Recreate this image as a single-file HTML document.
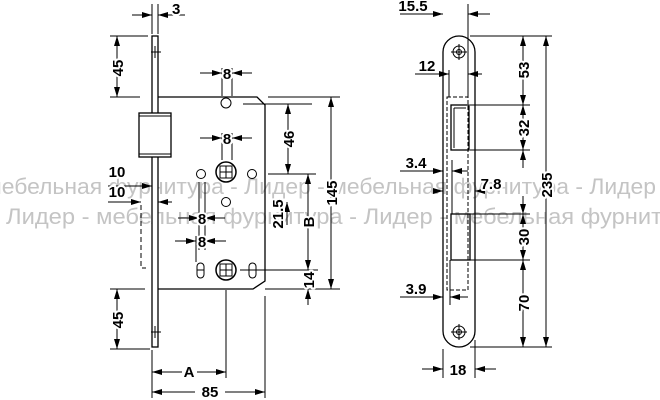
<!DOCTYPE html>
<html><head><meta charset="utf-8"><style>
html,body{margin:0;padding:0;background:#fff;}
svg{display:block;}
text{font-family:"Liberation Sans",Arial,sans-serif;font-weight:bold;font-size:15px;fill:#000;paint-order:stroke;stroke:#fff;stroke-width:4px;stroke-linejoin:round;}
.wm{font-family:"Liberation Sans","DejaVu Sans",sans-serif;font-weight:normal;font-size:22px;fill:#c4c4c4;stroke:none;}
</style></head><body>
<svg width="660" height="400" viewBox="0 0 660 400" xmlns="http://www.w3.org/2000/svg">
<defs>
<marker id="a" viewBox="0 0 10 6" refX="10" refY="3" markerWidth="10" markerHeight="6" markerUnits="userSpaceOnUse" orient="auto-start-reverse"><path d="M0,0L10,3L0,6z" fill="#000"/></marker>
</defs>
<text class="wm" x="-14" y="194" textLength="670" lengthAdjust="spacingAndGlyphs">мебельная фурнитура - Лидер - мебельная фурнитура - Лидер</text>
<text class="wm" x="6" y="224" textLength="656" lengthAdjust="spacingAndGlyphs">Лидер - мебельная фурнитура - Лидер - мебельная фурнит</text>
<g stroke="#000" stroke-width="1" fill="none">
<!-- LEFT VIEW -->
<rect x="152" y="36" width="6" height="311" fill="#fff" stroke-width="1.3"/>
<path d="M158 97H257L265 105V281L253 289H158" stroke-width="1.3"/>
<rect x="139" y="113" width="32" height="44" fill="#fff" stroke-width="1.3"/>
<line x1="139" y1="116" x2="171" y2="116"/>
<line x1="139" y1="154" x2="171" y2="154"/>
<line x1="151" y1="52" x2="161" y2="52"/><line x1="155" y1="46" x2="155" y2="58"/>
<line x1="151" y1="332" x2="161" y2="332"/><line x1="155" y1="326" x2="155" y2="338"/>
<path d="M141 205V268H146" stroke-dasharray="5,3"/>
<circle cx="226" cy="103" r="5"/>
<circle cx="226" cy="172" r="10" stroke-width="1.5"/><rect x="220" y="166" width="12" height="12"/><line x1="226" y1="166" x2="226" y2="178"/><line x1="220" y1="172" x2="232" y2="172"/>
<circle cx="201" cy="174" r="4.5"/><circle cx="252" cy="174" r="4.5"/>
<circle cx="226" cy="202" r="4.5"/>
<rect x="197" y="263" width="7" height="15" rx="3.5"/><rect x="249" y="263" width="7" height="15" rx="3.5"/>
<line x1="197" y1="270" x2="204" y2="270"/><line x1="249" y1="270" x2="256" y2="270"/>
<circle cx="226" cy="270" r="10" stroke-width="1.5"/><rect x="220" y="264" width="12" height="12"/><line x1="226" y1="264" x2="226" y2="276"/><line x1="220" y1="270" x2="232" y2="270"/>
<line x1="152" y1="4" x2="152" y2="34"/><line x1="158" y1="4" x2="158" y2="34"/>
<line x1="110" y1="36" x2="148" y2="36"/><line x1="110" y1="97" x2="140" y2="97"/>
<line x1="110" y1="289" x2="145" y2="289"/><line x1="110" y1="349" x2="150" y2="349"/>
<line x1="222" y1="68" x2="222" y2="96"/><line x1="232" y1="68" x2="232" y2="96"/>
<line x1="222" y1="133" x2="222" y2="160"/><line x1="232" y1="133" x2="232" y2="160"/>
<line x1="199" y1="182" x2="199" y2="250"/><line x1="205" y1="182" x2="205" y2="250"/>
<line x1="196" y1="236" x2="196" y2="262"/>
<line x1="243" y1="104" x2="312" y2="104"/>
<line x1="268" y1="97" x2="340" y2="97"/>
<line x1="268" y1="174" x2="316" y2="174"/>
<line x1="240" y1="270" x2="318" y2="270"/>
<line x1="265" y1="289" x2="340" y2="289"/>
<line x1="152" y1="350" x2="152" y2="398"/><line x1="226" y1="290" x2="226" y2="378"/><line x1="265" y1="296" x2="265" y2="398"/>
<line x1="132" y1="15" x2="152" y2="15" marker-end="url(#a)"/><line x1="185" y1="15" x2="158" y2="15" marker-end="url(#a)"/>
<line x1="117" y1="36" x2="117" y2="97" marker-start="url(#a)" marker-end="url(#a)"/>
<line x1="117" y1="289" x2="117" y2="349" marker-start="url(#a)" marker-end="url(#a)"/>
<line x1="200" y1="73" x2="222" y2="73" marker-end="url(#a)"/><line x1="252" y1="73" x2="232" y2="73" marker-end="url(#a)"/>
<line x1="200" y1="138" x2="222" y2="138" marker-end="url(#a)"/><line x1="252" y1="138" x2="232" y2="138" marker-end="url(#a)"/>
<line x1="178" y1="218" x2="199" y2="218" marker-end="url(#a)"/><line x1="225" y1="218" x2="205" y2="218" marker-end="url(#a)"/>
<line x1="175" y1="241" x2="196" y2="241" marker-end="url(#a)"/><line x1="226" y1="241" x2="205" y2="241" marker-end="url(#a)"/>
<line x1="108" y1="186" x2="152" y2="186" marker-end="url(#a)"/>
<line x1="108" y1="202" x2="141" y2="202" marker-end="url(#a)"/><line x1="172" y1="202" x2="158" y2="202" marker-end="url(#a)"/>
<line x1="288" y1="104" x2="288" y2="174" marker-start="url(#a)" marker-end="url(#a)"/>
<line x1="287" y1="225" x2="287" y2="202" marker-end="url(#a)"/>
<line x1="308" y1="174" x2="308" y2="270" marker-start="url(#a)" marker-end="url(#a)"/>
<line x1="308" y1="305" x2="308" y2="289" marker-end="url(#a)"/>
<line x1="331" y1="97" x2="331" y2="289" marker-start="url(#a)" marker-end="url(#a)"/>
<line x1="152" y1="372" x2="182" y2="372" marker-start="url(#a)"/><line x1="197" y1="372" x2="226" y2="372" marker-end="url(#a)"/>
<line x1="152" y1="392" x2="195" y2="392" marker-start="url(#a)"/><line x1="225" y1="392" x2="265" y2="392" marker-end="url(#a)"/>
<!-- RIGHT VIEW -->
<rect x="443" y="36" width="32" height="311" rx="16" stroke-width="1.3"/>
<circle cx="459" cy="52" r="6"/><circle cx="459" cy="52" r="2.5"/><line x1="459" y1="44" x2="459" y2="60"/><line x1="451" y1="52" x2="467" y2="52"/>
<circle cx="459" cy="332" r="6"/><circle cx="459" cy="332" r="2.5"/><line x1="459" y1="324" x2="459" y2="340"/><line x1="451" y1="332" x2="467" y2="332"/>
<rect x="447" y="97" width="21" height="193" stroke-dasharray="4,2"/>
<rect x="451" y="105" width="18" height="45" stroke-width="1.3"/><line x1="454" y1="108" x2="466" y2="108"/><line x1="454" y1="108" x2="454" y2="148"/>
<rect x="451" y="214" width="19" height="46" stroke-width="1.3"/>
<line x1="449" y1="70" x2="449" y2="97"/><line x1="468" y1="4" x2="468" y2="97"/>
<line x1="452" y1="160" x2="452" y2="214"/><line x1="450" y1="260" x2="450" y2="305"/>
<line x1="443" y1="349" x2="443" y2="378"/><line x1="475" y1="340" x2="475" y2="378"/>
<line x1="470" y1="36" x2="552" y2="36"/><line x1="470" y1="105" x2="530" y2="105"/><line x1="470" y1="150" x2="530" y2="150"/>
<line x1="470" y1="214" x2="530" y2="214"/><line x1="470" y1="260" x2="530" y2="260"/><line x1="470" y1="347" x2="552" y2="347"/>
<line x1="400" y1="14" x2="443" y2="14" marker-end="url(#a)"/><line x1="490" y1="14" x2="468" y2="14" marker-end="url(#a)"/>
<line x1="415" y1="74" x2="449" y2="74" marker-end="url(#a)"/><line x1="482" y1="74" x2="468" y2="74" marker-end="url(#a)"/>
<line x1="400" y1="171" x2="443" y2="171" marker-end="url(#a)"/><line x1="468" y1="171" x2="452" y2="171" marker-end="url(#a)"/>
<line x1="435" y1="191" x2="443" y2="191" marker-end="url(#a)"/><line x1="485" y1="191" x2="475" y2="191" marker-end="url(#a)"/>
<line x1="400" y1="297" x2="443" y2="297" marker-end="url(#a)"/><line x1="468" y1="297" x2="450" y2="297" marker-end="url(#a)"/>
<line x1="422" y1="369" x2="443" y2="369" marker-end="url(#a)"/><line x1="496" y1="369" x2="475" y2="369" marker-end="url(#a)"/>
<line x1="523" y1="36" x2="523" y2="105" marker-start="url(#a)" marker-end="url(#a)"/>
<line x1="523" y1="105" x2="523" y2="150" marker-start="url(#a)" marker-end="url(#a)"/>
<line x1="523" y1="168" x2="523" y2="150" marker-end="url(#a)"/><line x1="523" y1="196" x2="523" y2="214" marker-end="url(#a)"/>
<line x1="523" y1="214" x2="523" y2="260" marker-start="url(#a)" marker-end="url(#a)"/>
<line x1="523" y1="260" x2="523" y2="347" marker-start="url(#a)" marker-end="url(#a)"/>
<line x1="546" y1="36" x2="546" y2="347" marker-start="url(#a)" marker-end="url(#a)"/>
</g>
<g>
<text x="172" y="14">3</text>
<text transform="translate(123,68) rotate(-90)" text-anchor="middle">45</text>
<text transform="translate(123,320) rotate(-90)" text-anchor="middle">45</text>
<text x="227" y="79" text-anchor="middle">8</text>
<text x="227" y="144" text-anchor="middle">8</text>
<text x="202" y="224" text-anchor="middle">8</text>
<text x="202" y="247" text-anchor="middle">8</text>
<text x="117" y="177" text-anchor="middle">10</text>
<text x="117" y="197" text-anchor="middle">10</text>
<text transform="translate(294,139) rotate(-90)" text-anchor="middle">46</text>
<text transform="translate(283,214) rotate(-90)" text-anchor="middle">21.5</text>
<text transform="translate(314,222) rotate(-90)" text-anchor="middle">B</text>
<text transform="translate(314,280) rotate(-90)" text-anchor="middle">14</text>
<text transform="translate(337,193) rotate(-90)" text-anchor="middle">145</text>
<text x="189" y="377" text-anchor="middle">A</text>
<text x="210" y="397" text-anchor="middle">85</text>
<text x="413" y="11" text-anchor="middle">15.5</text>
<text x="427" y="71" text-anchor="middle">12</text>
<text x="416" y="168" text-anchor="middle">3.4</text>
<text x="491" y="189" text-anchor="middle">7.8</text>
<text x="416" y="294" text-anchor="middle">3.9</text>
<text x="458" y="375" text-anchor="middle">18</text>
<text transform="translate(529,70) rotate(-90)" text-anchor="middle">53</text>
<text transform="translate(529,128) rotate(-90)" text-anchor="middle">32</text>
<text transform="translate(529,237) rotate(-90)" text-anchor="middle">30</text>
<text transform="translate(529,303) rotate(-90)" text-anchor="middle">70</text>
<text transform="translate(552,185) rotate(-90)" text-anchor="middle">235</text>
</g>
</svg>
</body></html>
